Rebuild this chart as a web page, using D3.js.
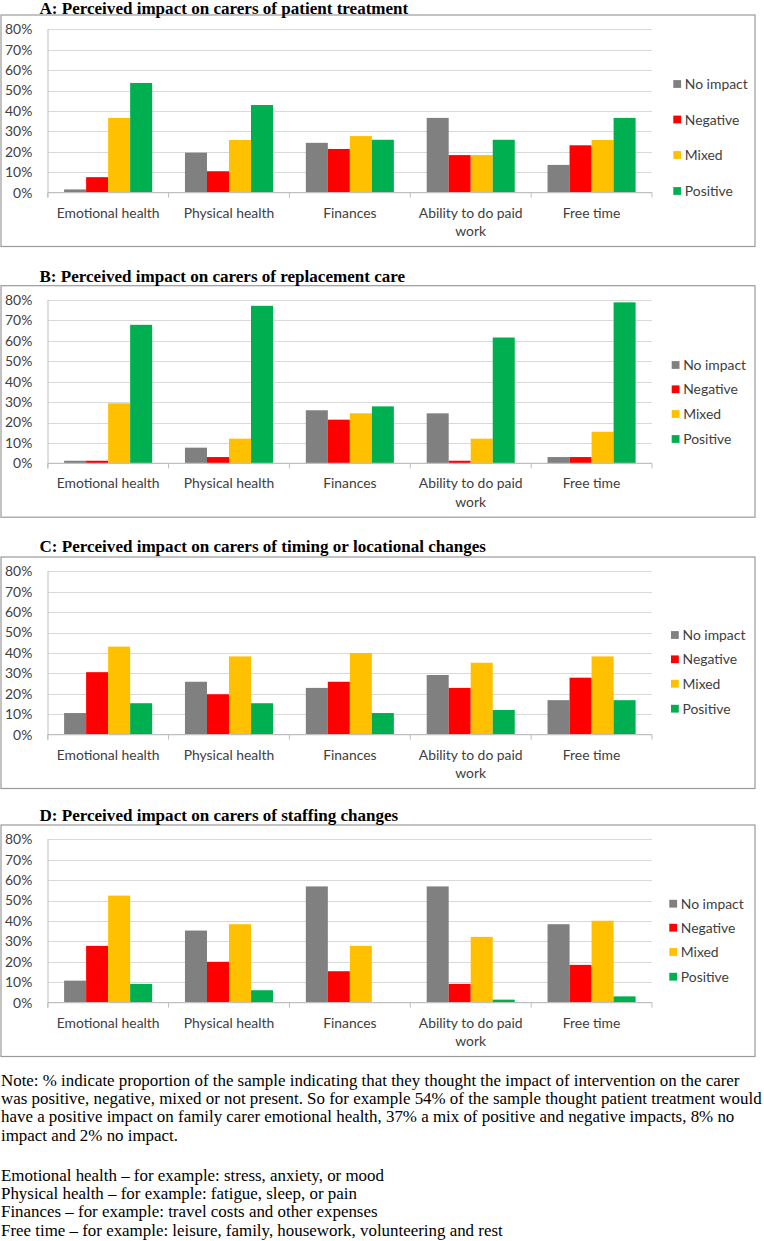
<!DOCTYPE html>
<html><head><meta charset="utf-8">
<script src="https://cdn.jsdelivr.net/npm/d3@7"></script>
<style>body{margin:0;background:#fff}</style>
</head><body><svg id="c" width="764" height="1241"></svg>
<script>
// ---------- DATA ----------
const categories = ["Emotional health", "Physical health", "Finances", "Ability to do paid work", "Free time"];
const seriesNames = ["No impact", "Negative", "Mixed", "Positive"];
const yTickValues = [0, 10, 20, 30, 40, 50, 60, 70, 80];
const panelTitles = [
  "A: Perceived impact on carers of patient treatment",
  "B: Perceived impact on carers of replacement care",
  "C: Perceived impact on carers of timing or locational changes",
  "D: Perceived impact on carers of staffing changes"
];
// Panel A
const aNoImpact = [1.6, 19.6, 24.4, 36.6, 13.6];
const aNegative = [7.6, 10.5, 21.4, 18.4, 23.2];
const aMixed    = [36.6, 25.8, 27.7, 18.4, 25.8];
const aPositive = [53.7, 42.9, 25.9, 25.9, 36.6];
// Panel B
const bNoImpact = [1.3, 7.7, 26.0, 24.5, 3.1];
const bNegative = [1.3, 3.1, 21.4, 1.3, 3.1];
const bMixed    = [29.4, 12.1, 24.5, 12.1, 15.5];
const bPositive = [67.8, 77.1, 27.9, 61.6, 78.8];
// Panel C
const cNoImpact = [10.6, 25.9, 22.9, 29.2, 16.9];
const cNegative = [30.6, 19.8, 25.9, 22.9, 27.9];
const cMixed    = [43.1, 38.3, 40.0, 35.2, 38.3];
const cPositive = [15.4, 15.4, 10.6, 12.1, 16.9];
// Panel D
const dNoImpact = [10.8, 35.3, 56.9, 56.9, 38.4];
const dNegative = [27.8, 20.0, 15.4, 9.2, 18.5];
const dMixed    = [52.4, 38.4, 27.8, 32.2, 40.1];
const dPositive = [9.2, 6.1, 0, 1.5, 3.1];

const noteLines = [
  "Note: % indicate proportion of the sample indicating that they thought the impact of intervention on the carer",
  "was positive, negative, mixed or not present. So for example 54% of the sample thought patient treatment would",
  "have a positive impact on family carer emotional health, 37% a mix of positive and negative impacts, 8% no",
  "impact and 2% no impact."
];
const definitionLines = [
  "Emotional health \u2013 for example: stress, anxiety, or mood",
  "Physical health \u2013 for example: fatigue, sleep, or pain",
  "Finances \u2013 for example: travel costs and other expenses",
  "Free time \u2013 for example: leisure, family, housework, volunteering and rest"
];

// ---------- STYLE / LAYOUT ----------
const seriesColors = ["#808080", "#FF0000", "#FFC000", "#00B050"];
const SANS = "Lato, 'Open Sans', sans-serif";
const SERIF = "'Liberation Serif', 'DejaVu Serif', serif";
const boxTops = [15, 285.7, 557, 825];
const titleBaselines = [14.2, 281.8, 551.8, 820.8];
const boxH = 231.5;
const legendX = [673.3, 671.7, 671, 669.3];
const legendRowOffsets = [
  [69, 104.5, 140, 176],
  [79.3, 103.6, 128.3, 153.3],
  [78, 102.3, 126.7, 151.7],
  [78.7, 102.7, 127, 151.7]
];
const panelSeries = [
  [aNoImpact, aNegative, aMixed, aPositive],
  [bNoImpact, bNegative, bMixed, bPositive],
  [cNoImpact, cNegative, cMixed, cPositive],
  [dNoImpact, dNegative, dMixed, dPositive]
];

const svg = d3.select("#c");

function measure(text, family, weight, size) {
  const t = svg.append("text").attr("font-family", family).attr("font-weight", weight)
    .attr("font-size", size).text(text);
  const w = t.node().getComputedTextLength();
  t.remove();
  return w;
}
const sansSize = 13 * 103 / measure("Emotional health", SANS, 400, 13);
const titleSize = 15 * 369 / measure(panelTitles[0], SERIF, 700, 15);
const noteSize = 15 * 761 / measure(noteLines[1], SERIF, 400, 15);

panelTitles.forEach((title, p) => {
  const top = boxTops[p];
  const g = svg.append("g");

  // chart box
  g.append("rect").attr("x", 1).attr("y", top).attr("width", 754).attr("height", boxH)
    .attr("fill", "#fff").attr("stroke", "#9a9a9a").attr("stroke-width", 1.2);

  const x0 = d3.scaleBand().domain(categories).range([47.7, 652]).padding(0);
  const bw = x0.bandwidth();
  const x1 = d3.scaleBand().domain(seriesNames).range([16.4, bw - 16.4]).padding(0);
  const y = d3.scaleLinear().domain([0, 80]).range([top + 177.7, top + 14.2]);

  // gridlines
  g.append("g").selectAll("line").data(yTickValues.filter(v => v > 0)).join("line")
    .attr("x1", 47.7).attr("x2", 652)
    .attr("y1", d => Math.round(y(d)) + 0.5).attr("y2", d => Math.round(y(d)) + 0.5)
    .attr("stroke", "#d9d9d9").attr("stroke-width", 1);

  // y axis labels
  const yAxis = d3.axisLeft(y).tickValues(yTickValues).tickFormat(d => d + "%")
    .tickSize(0).tickPadding(15.4);
  const ya = g.append("g").attr("transform", "translate(47.7,0)").call(yAxis);
  ya.select(".domain").remove();
  ya.selectAll("text").attr("font-family", SANS).attr("font-size", sansSize).attr("fill", "#404040");

  // vertical axis line
  g.append("line").attr("x1", 48).attr("x2", 48).attr("y1", y(80)).attr("y2", y(0) + 5)
    .attr("stroke", "#c0c0c0").attr("stroke-width", 1);

  // bars
  seriesNames.forEach((s, si) => {
    g.append("g").selectAll("rect").data(panelSeries[p][si]).join("rect")
      .attr("x", (d, i) => x0(categories[i]) + x1(s))
      .attr("width", x1.bandwidth())
      .attr("y", d => y(d))
      .attr("height", d => y(0) - y(d))
      .attr("fill", seriesColors[si]);
  });

  // x axis baseline + boundary ticks
  g.append("line").attr("x1", 47.7).attr("x2", 652).attr("y1", y(0)).attr("y2", y(0))
    .attr("stroke", "#bfbfbf").attr("stroke-width", 1.2);
  const bounds = categories.map(c => x0(c)).concat([x0(categories[categories.length - 1]) + bw]);
  g.append("g").selectAll("line").data(bounds).join("line")
    .attr("x1", d => d).attr("x2", d => d).attr("y1", y(0)).attr("y2", y(0) + 5)
    .attr("stroke", "#bfbfbf").attr("stroke-width", 1);

  // x labels (wrapped)
  categories.forEach(c => {
    const words = c.split(" ");
    const lines = [];
    let cur = [];
    words.forEach(w => {
      const test = cur.concat([w]).join(" ");
      if (cur.length && measure(test, SANS, 400, sansSize) > bw - 8) {
        lines.push(cur.join(" "));
        cur = [w];
      } else cur.push(w);
    });
    lines.push(cur.join(" "));
    const t = g.append("text").attr("text-anchor", "middle")
      .attr("font-family", SANS).attr("font-size", sansSize).attr("fill", "#404040");
    lines.forEach((ln, li) => {
      t.append("tspan").attr("x", x0(c) + bw / 2).attr("y", top + 202.5 + li * 18.3).text(ln);
    });
  });

  // legend
  const lg = g.append("g");
  seriesNames.forEach((s, si) => {
    const cy = top + legendRowOffsets[p][si];
    lg.append("rect").attr("x", legendX[p]).attr("y", cy - 3.9).attr("width", 7.8).attr("height", 7.8)
      .attr("fill", seriesColors[si]);
    lg.append("text").attr("x", legendX[p] + 11.5).attr("y", cy).attr("dy", "0.36em")
      .attr("font-family", SANS).attr("font-size", sansSize).attr("fill", "#404040").text(s);
  });

  // title (drawn last so it sits above the box border)
  svg.append("text").attr("x", 39.5).attr("y", titleBaselines[p])
    .attr("font-family", SERIF).attr("font-weight", 700).attr("font-size", titleSize)
    .attr("fill", "#000").text(title);
});

// notes
const noteG = svg.append("g").attr("font-family", SERIF).attr("font-size", noteSize).attr("fill", "#000");
noteLines.forEach((ln, i) => {
  noteG.append("text").attr("x", 1).attr("y", 1085.5 + i * 18.4).text(ln);
});
definitionLines.forEach((ln, i) => {
  noteG.append("text").attr("x", 1).attr("y", 1180.5 + i * 18.4).text(ln);
});
</script>
</body></html>
